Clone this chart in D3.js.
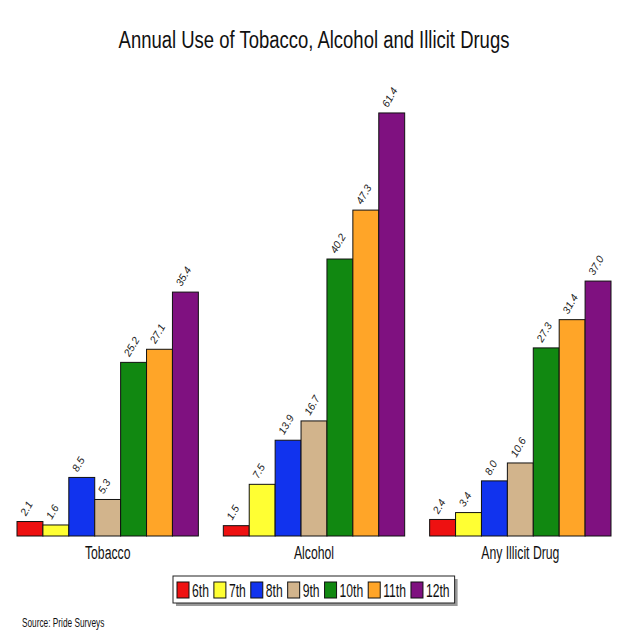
<!DOCTYPE html>
<html><head><meta charset="utf-8">
<script src="https://cdn.jsdelivr.net/npm/d3@7"></script>
<style>body{margin:0;background:#fff}svg{display:block}</style>
</head><body>
<svg id="c" width="640" height="640"></svg>
<script>
const categories = ["Tobacco", "Alcohol", "Any Illicit Drug"];
const grades = ["6th", "7th", "8th", "9th", "10th", "11th", "12th"];
const tobacco = [2.1, 1.6, 8.5, 5.3, 25.2, 27.1, 35.4];
const alcohol = [1.5, 7.5, 13.9, 16.7, 40.2, 47.3, 61.4];
const illicit = [2.4, 3.4, 8.0, 10.6, 27.3, 31.4, 37.0];
const colors = ["#ee1111", "#ffff33", "#1133ee", "#d2b48c", "#118811", "#ffa528", "#7f1180"];
const series = [tobacco, alcohol, illicit];
const title = "Annual Use of Tobacco, Alcohol and Illicit Drugs";
const source = "Source: Pride Surveys";

const FONT = "'Liberation Sans', Arial, sans-serif";
const svg = d3.select("#c");

// condensed text helper
function ntext(sel, x, y, size, sx, anchor) {
  return sel.append("g").attr("transform", `translate(${x},${y}) scale(${sx},1)`)
    .append("text").attr("x", 0).attr("y", 0).attr("text-anchor", anchor || "start")
    .attr("font-family", FONT).attr("font-size", size).attr("fill", "#111");
}

const x0 = d3.scaleBand().domain(categories).range([17, 611]).paddingInner(0.121).paddingOuter(0);
const x1 = d3.scaleBand().domain(grades).range([0, x0.bandwidth()]).padding(0);
const y = d3.scaleLinear().domain([0, 70]).range([536, 536 - 70 * 6.89]);
const color = d3.scaleOrdinal().domain(grades).range(colors);

ntext(svg, 314, 48, 24, 0.77, "middle").text(title);

const g = svg.selectAll("g.grp").data(categories).join("g").attr("class", "grp")
  .attr("transform", d => `translate(${x0(d)},0)`);

g.selectAll("rect").data((d, i) => series[i].map((v, j) => ({ g: grades[j], v })))
  .join("rect")
  .attr("x", d => x1(d.g)).attr("width", x1.bandwidth())
  .attr("y", d => y(d.v)).attr("height", d => y(0) - y(d.v))
  .attr("fill", d => color(d.g)).attr("stroke", "#111").attr("stroke-width", 1);

g.selectAll("text.val").data((d, i) => series[i].map((v, j) => ({ g: grades[j], v })))
  .join("text").attr("class", "val")
  .attr("transform", d => `translate(${x1(d.g) + x1.bandwidth() / 2 - 4},${y(d.v) - 5}) rotate(-60)`)
  .attr("font-family", FONT).attr("font-style", "italic")
  .attr("font-size", 10.5).attr("fill", "#222")
  .text(d => d.v.toFixed(1));

categories.forEach(c => {
  ntext(svg, x0(c) + x0.bandwidth() / 2, 559, 18, 0.68, "middle").text(c);
});

// legend
const leg = svg.append("g");
const shadow = leg.append("rect").attr("fill", "#999");
const box = leg.append("rect").attr("fill", "#fff").attr("stroke", "#222").attr("stroke-width", 1);
const LS = 0.64;
let cx = 177;
grades.forEach(gr => {
  leg.append("rect").attr("x", cx).attr("y", 582).attr("width", 12).attr("height", 16)
    .attr("fill", color(gr)).attr("stroke", "#111");
  const t = ntext(leg, cx + 15, 597, 19, LS).text(gr);
  cx += 15 + t.node().getComputedTextLength() * LS + 5;
});
const bx0 = 173, bx1 = cx;
box.attr("x", bx0).attr("y", 576).attr("width", bx1 - bx0).attr("height", 27);
shadow.attr("x", bx0 + 3).attr("y", 579).attr("width", bx1 - bx0).attr("height", 27);

ntext(svg, 22, 627, 12, 0.69).text(source);
</script>
</body></html>
